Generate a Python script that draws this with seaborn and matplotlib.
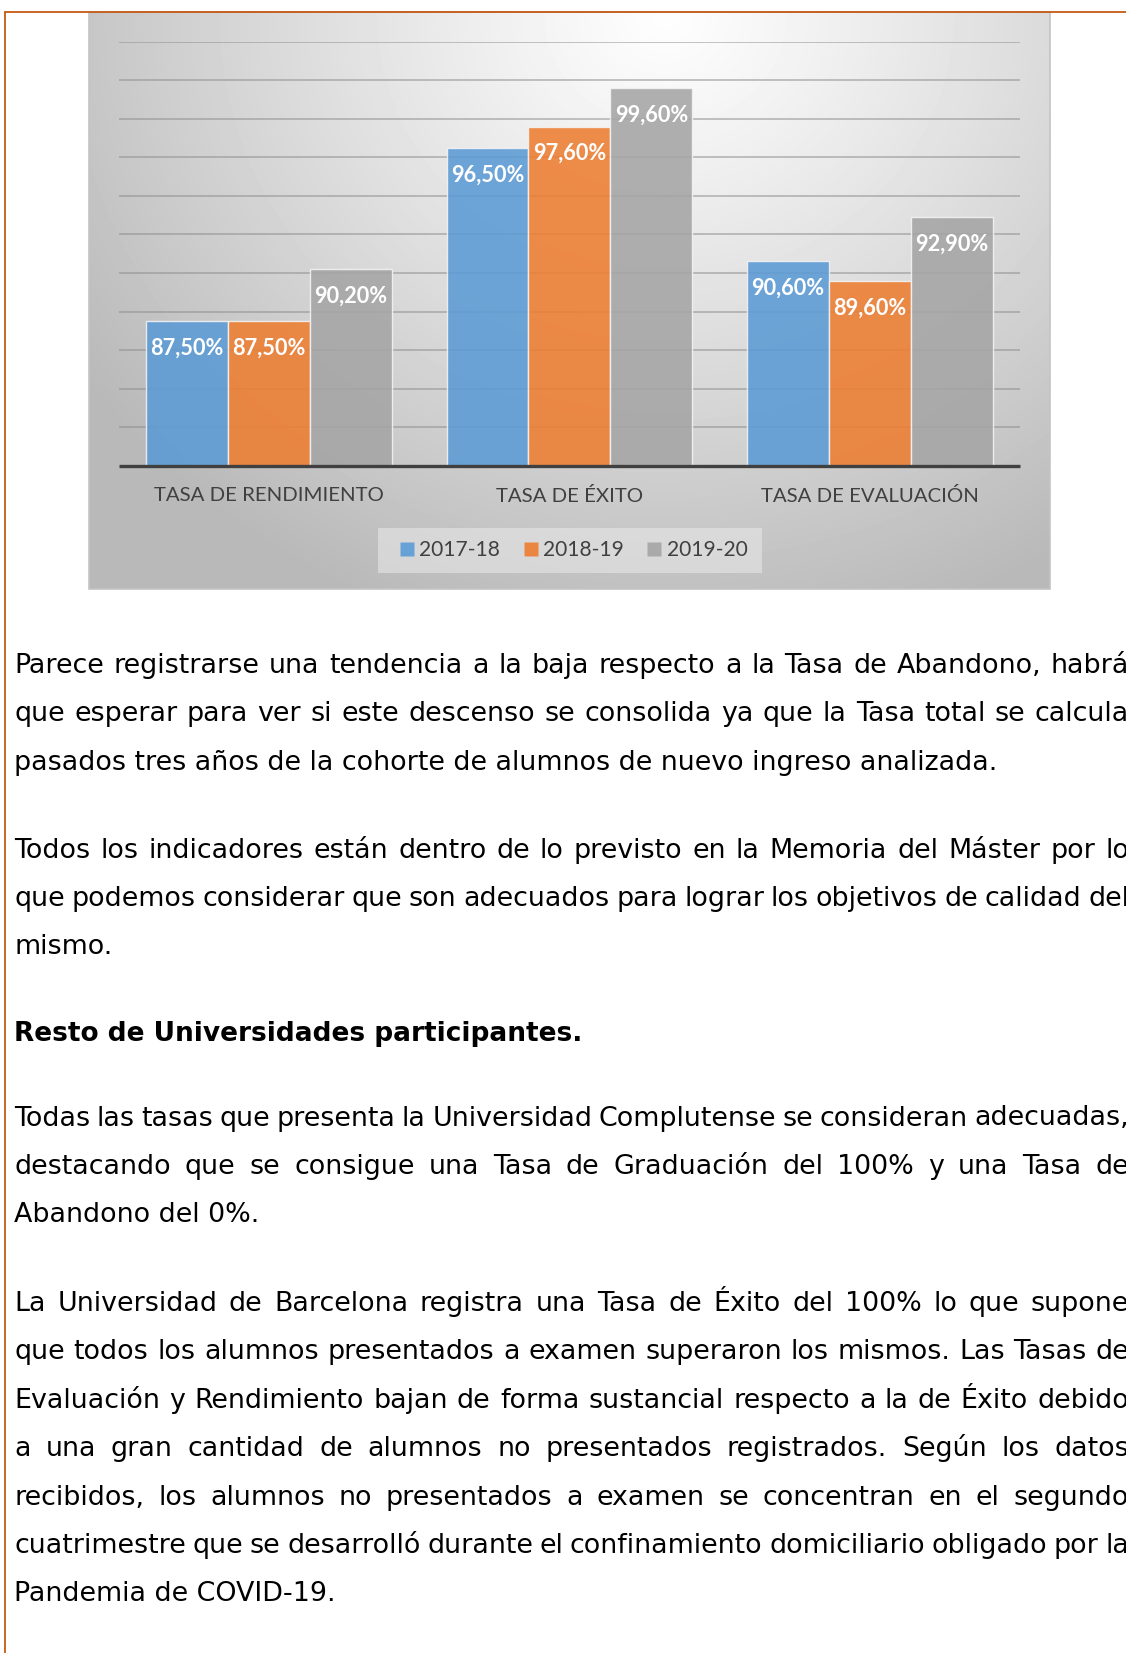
import numpy as np
import pandas as pd
import matplotlib
matplotlib.use("Agg")
import matplotlib.pyplot as plt
from matplotlib.patches import Rectangle
from matplotlib.lines import Line2D
import seaborn as sns

# chart data
categories = ["TASA DE RENDIMIENTO", "TASA DE ÉXITO", "TASA DE EVALUACIÓN"]
years = ["2017-18", "2018-19", "2019-20"]
vals_1718 = [87.5, 96.5, 90.6]
vals_1819 = [87.5, 97.6, 89.6]
vals_1920 = [90.2, 99.6, 92.9]
colors = ["#5B9BD5", "#ED7D31", "#A5A5A5"]

# page text (line by line, as in the document)
para1 = ["Parece registrarse una tendencia a la baja respecto a la Tasa de Abandono, habrá",
         "que esperar para ver si este descenso se consolida ya que la Tasa total se calcula",
         "pasados tres años de la cohorte de alumnos de nuevo ingreso analizada."]
para2 = ["Todos los indicadores están dentro de lo previsto en la Memoria del Máster por lo",
         "que podemos considerar que son adecuados para lograr los objetivos de calidad del",
         "mismo."]
heading = "Resto de Universidades participantes."
para3 = ["Todas las tasas que presenta la Universidad Complutense se consideran adecuadas,",
         "destacando que se consigue una Tasa de Graduación del 100% y una Tasa de",
         "Abandono del 0%."]
para4 = ["La Universidad de Barcelona registra una Tasa de Éxito del 100% lo que supone",
         "que todos los alumnos presentados a examen superaron los mismos. Las Tasas de",
         "Evaluación y Rendimiento bajan de forma sustancial respecto a la de Éxito debido",
         "a una gran cantidad de alumnos no presentados registrados. Según los datos",
         "recibidos, los alumnos no presentados a examen se concentran en el segundo",
         "cuatrimestre que se desarrolló durante el confinamiento domiciliario obligado por la",
         "Pandemia de COVID-19."]

W, H = 1126, 1653


def fx(x):
    return x / W


def fy(y):
    return 1 - y / H


sns.set_theme(style="white")
plt.rcParams["font.family"] = ["DejaVu Sans"]

df = pd.DataFrame({
    "tasa": categories * 3,
    "curso": np.repeat(years, 3),
    "valor": vals_1718 + vals_1819 + vals_1920,
})

fig = plt.figure(figsize=(W / 100, H / 100), dpi=100)
fig.patch.set_facecolor("white")

# gradient panel behind the chart
px0, px1, py0, py1 = 89, 1050, 12, 589
bg = fig.add_axes([fx(px0), fy(py1), (px1 - px0) / W, (py1 - py0) / H], zorder=0)
yy, xx = np.mgrid[py0:py1, px0:px1]
d = np.hypot(xx - 665, (yy - 15) * 1.1)
grad = np.clip(254 - 58 * (d / 600) ** 1.1, 185, 254)
bg.imshow(grad, cmap="gray", vmin=0, vmax=255, aspect="auto", interpolation="bilinear")
bg.set_axis_off()
fig.add_artist(Rectangle((fx(px0), fy(py1)), (px1 - px0) / W, (py1 - py0) / H,
                         transform=fig.transFigure, facecolor="none",
                         edgecolor="#C4C4C4", lw=1.2, zorder=1))

# legend background
fig.add_artist(Rectangle((fx(377.5), fy(573)), (762 - 377.5) / W, 45 / H,
                         transform=fig.transFigure, facecolor="#EAEAEA",
                         alpha=0.55, edgecolor="none", zorder=1))

ax = fig.add_axes([fx(118.6), fy(465.7), (1020.3 - 118.6) / W, (465.7 - 41.7) / H], zorder=2)
ax.patch.set_alpha(0)
sns.barplot(data=df, x="tasa", y="valor", hue="curso", palette=colors, saturation=1,
            width=0.818, alpha=0.88, edgecolor="#F4F4F4", linewidth=1,
            legend=False, ax=ax, zorder=3)
ax.set_xlim(-0.5, 2.5)
ax.set_ylim(80, 102)
ax.hlines(np.arange(82, 103, 2), -0.5, 2.5, colors="#8C8C8C", lw=1.3, alpha=0.55, zorder=1)
ax.hlines(80, -0.5, 2.5, colors="#404040", lw=2.4, zorder=4, clip_on=False)

for cont in ax.containers:
    for bar in cont:
        h = bar.get_height()
        ax.annotate(f"{h:.2f}%".replace(".", ","),
                    (bar.get_x() + bar.get_width() / 2, h),
                    xytext=(0, -19.5), textcoords="offset points",
                    ha="center", va="center", color="white",
                    fontweight="bold", fontsize=15.7, family="Lato", zorder=5)

ax.set_xticks(range(len(categories)))
ax.set_xticklabels(categories, fontsize=14.7, color="#404040", family="Lato")
ax.tick_params(axis="x", length=0, pad=15)
ax.set_yticks([])
ax.set_xlabel("")
ax.set_ylabel("")
for s in ax.spines.values():
    s.set_visible(False)

handles = [Line2D([], [], marker="s", linestyle="none", markersize=9.4,
                  markerfacecolor=c, markeredgecolor="none", alpha=0.9) for c in colors]
ax.legend(handles, years, loc="center", bbox_to_anchor=(fx(574), fy(550.5)),
          bbox_transform=fig.transFigure, ncol=3, frameon=False,
          prop={"family": "Lato", "size": 15.1}, labelcolor="#404040",
          handlelength=0.62, handletextpad=0.29, columnspacing=1.14)

# orange page border
fig.add_artist(Line2D([fx(5), fx(5)], [fy(12), 0], color="#C55A11", lw=1.3,
                      transform=fig.transFigure, zorder=10))
fig.add_artist(Line2D([fx(5), 1], [fy(12), fy(12)], color="#C55A11", lw=1.3,
                      transform=fig.transFigure, zorder=10))

# body text
renderer = fig.canvas.get_renderer()
x0 = 14.3
right = 1129
fs = 19.4


def put_line(line, yb, justify, weight="normal", size=fs):
    if not justify:
        fig.text(fx(x0), fy(yb), line, fontsize=size, fontweight=weight,
                 ha="left", va="baseline", color="black")
        return
    words = line.split(" ")
    texts = [fig.text(0, fy(yb), w, fontsize=size, fontweight=weight,
                      ha="left", va="baseline", color="black") for w in words]
    widths = [t.get_window_extent(renderer).width for t in texts]
    gap = (right - x0 - sum(widths)) / (len(words) - 1)
    x = x0
    for t, w in zip(texts, widths):
        t.set_x(fx(x))
        x += w + gap


def put_para(lines, first, step=48.4):
    for i, line in enumerate(lines):
        put_line(line, first + i * step, i < len(lines) - 1)


put_para(para1, 673)
put_para(para2, 857.5)
put_line(heading, 1041, False, weight="bold", size=19)
put_para(para3, 1125.5)
put_para(para4, 1311)

fig.savefig("out.png", dpi=100)
